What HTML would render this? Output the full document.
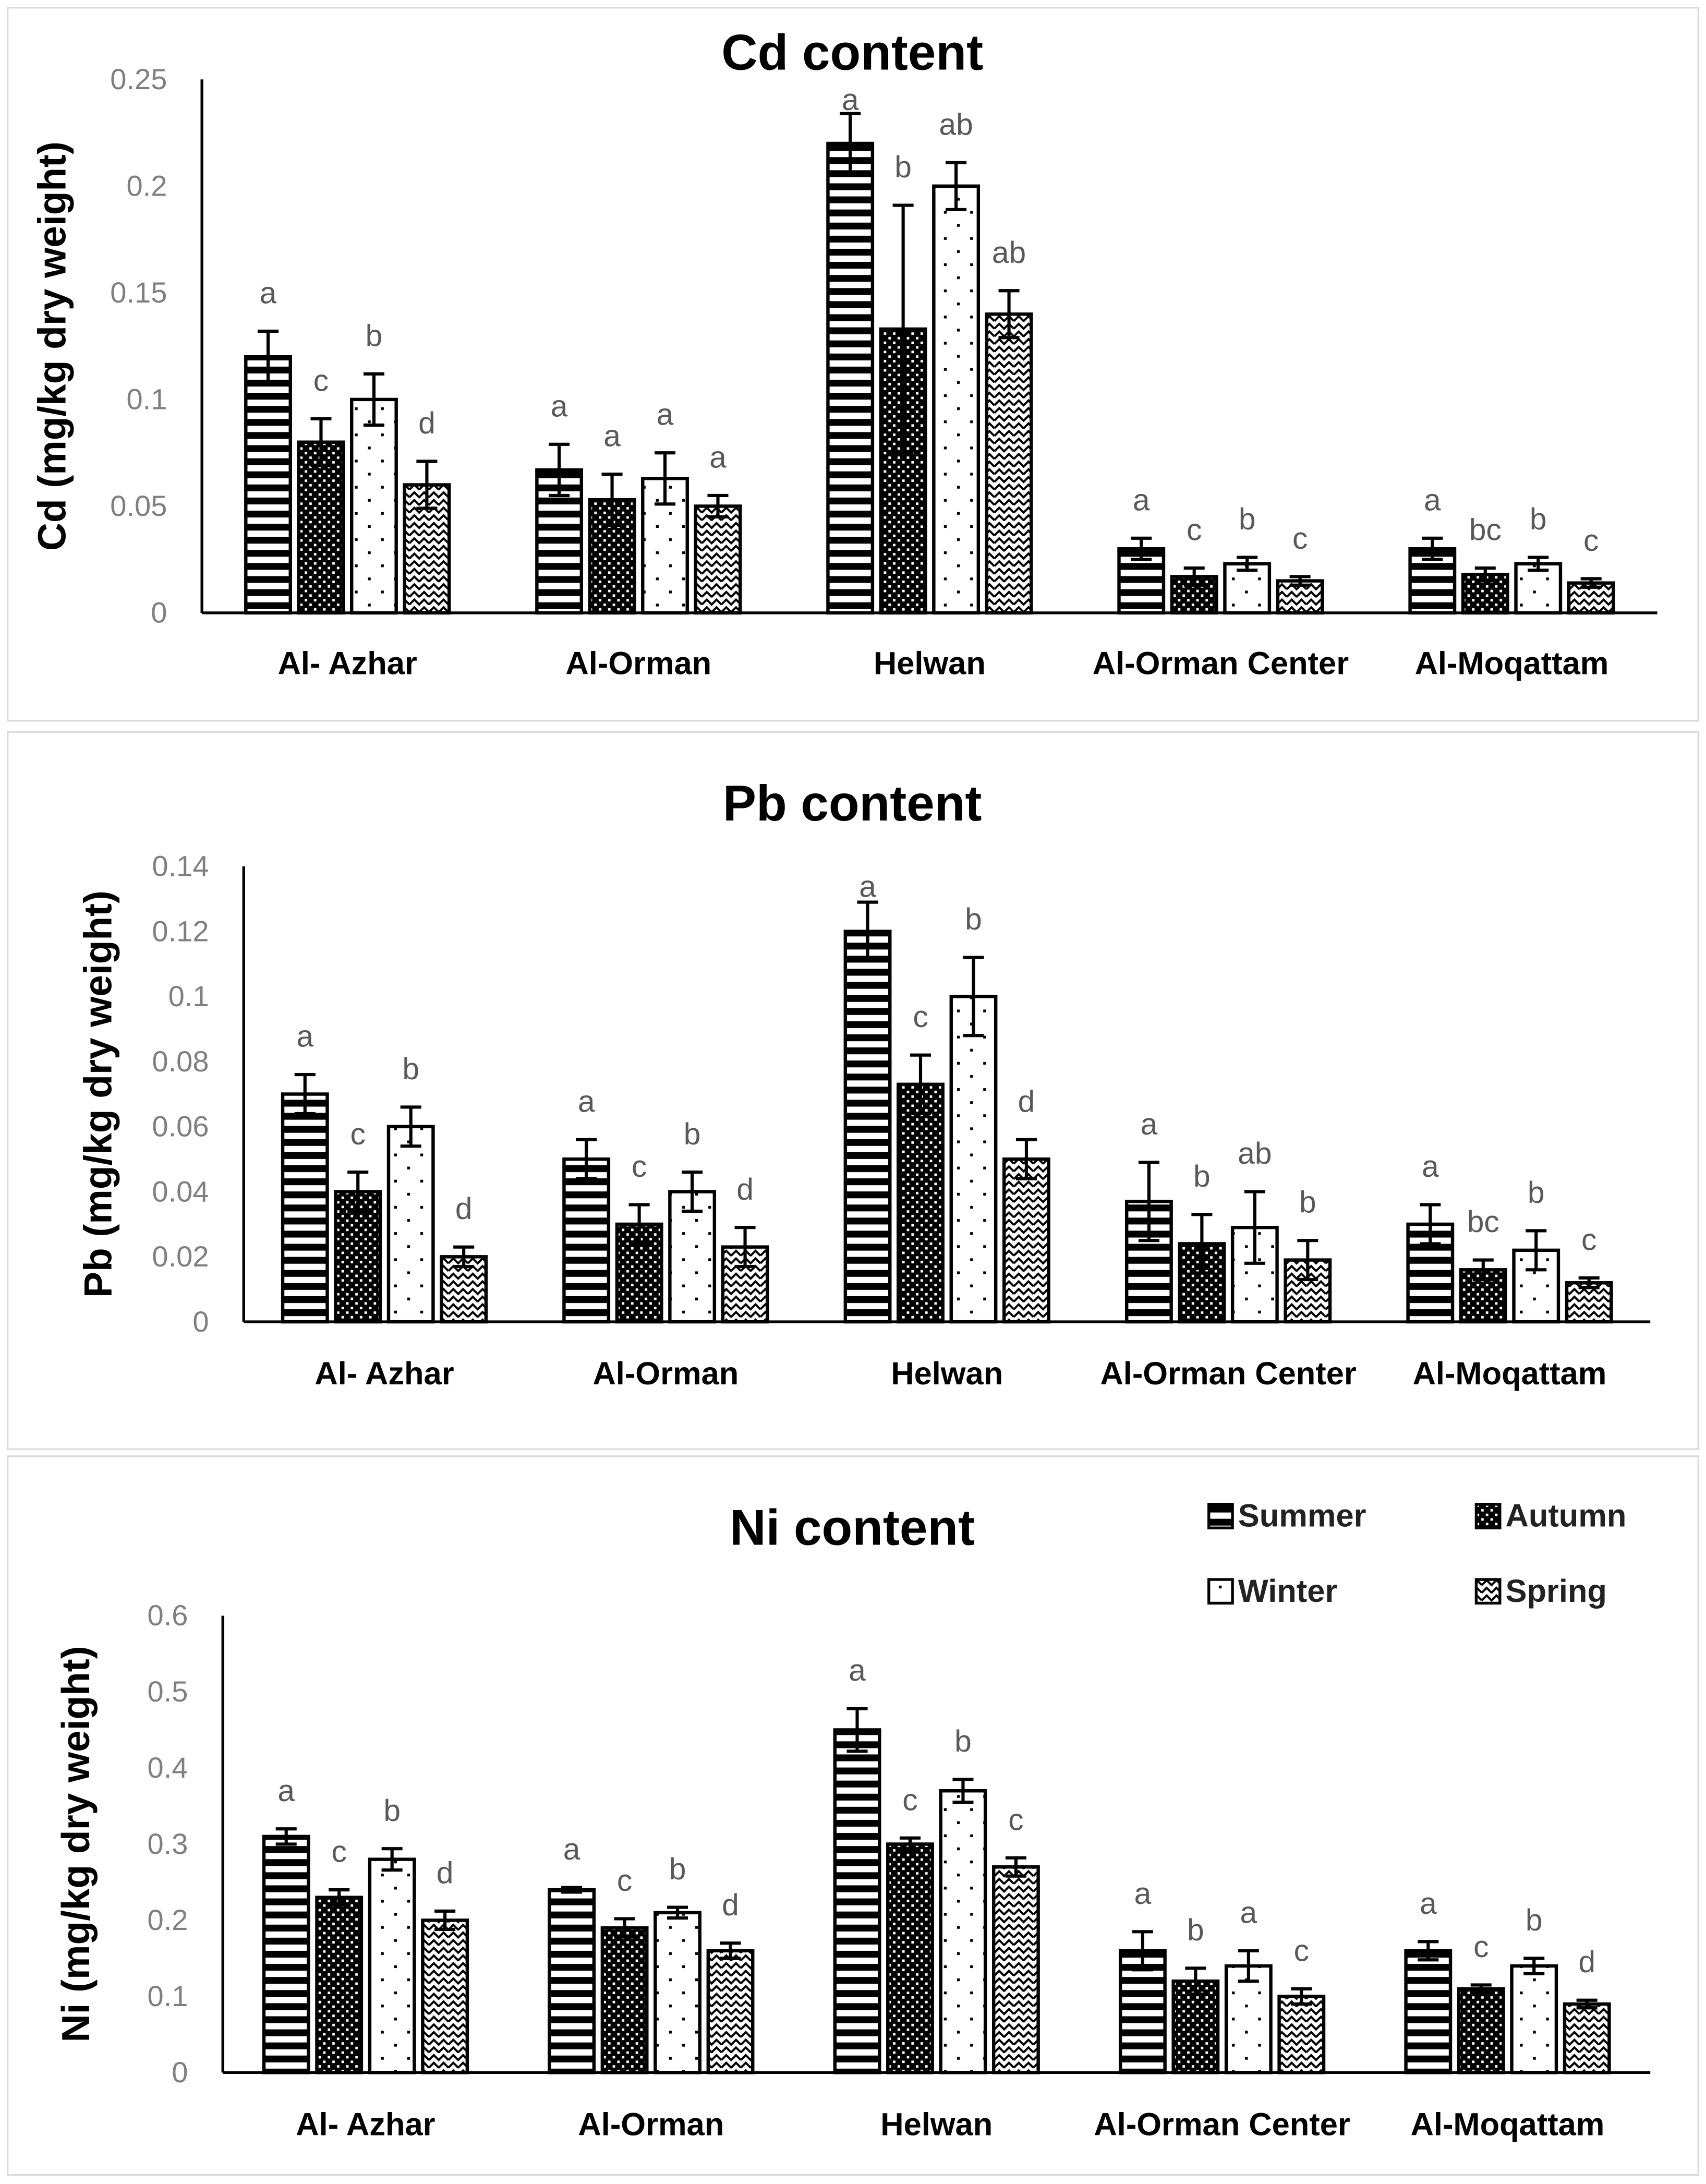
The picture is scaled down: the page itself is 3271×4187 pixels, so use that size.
<!DOCTYPE html>
<html><head><meta charset="utf-8">
<style>
html,body{margin:0;padding:0;background:#fff;}
svg{display:block;}
text{font-family:"Liberation Sans",Arial,sans-serif;}
</style></head>
<body>
<svg id="fig" width="3271" height="4187" viewBox="0 0 1225 1568" xmlns="http://www.w3.org/2000/svg">
<defs>
<pattern id="pSummer" patternUnits="userSpaceOnUse" width="9.4" height="9.4"><rect width="9.4" height="9.4" fill="#fff"/><rect y="0" width="9.4" height="4.9" fill="#000"/></pattern>
<pattern id="pAutumn" patternUnits="userSpaceOnUse" width="6.6" height="6.6"><rect width="6.6" height="6.6" fill="#000"/><rect x="1" y="1" width="1.8" height="1.8" fill="#fff"/><rect x="4.3" y="4.3" width="1.8" height="1.8" fill="#fff"/></pattern>
<pattern id="pWinter" patternUnits="userSpaceOnUse" width="18.8" height="18.8"><rect width="18.8" height="18.8" fill="#fff"/><rect x="1" y="1" width="2" height="2" fill="#000"/><rect x="10.4" y="10.4" width="2" height="2" fill="#000"/></pattern>
<pattern id="pSpring" patternUnits="userSpaceOnUse" width="14" height="11"><rect width="14" height="11" fill="#fff"/><path d="M0,5 L3.5,1.5 L7,5 L10.5,1.5 L14,5" fill="none" stroke="#000" stroke-width="1.5"/><path d="M0,10.5 L3.5,7 L7,10.5 L10.5,7 L14,10.5" fill="none" stroke="#000" stroke-width="1.5"/></pattern>
</defs>
<rect x="5.5" y="5.5" width="1214" height="512" fill="#fff" stroke="#d9d9d9" stroke-width="1.2"/>
<rect x="5.5" y="525.5" width="1214" height="515" fill="#fff" stroke="#d9d9d9" stroke-width="1.2"/>
<rect x="5.5" y="1045.5" width="1214" height="516" fill="#fff" stroke="#d9d9d9" stroke-width="1.2"/>
<g id="legend">
 <g><rect x="868" y="1080" width="17" height="17" fill="url(#pSummer)" stroke="#000" stroke-width="2"/><text x="889" y="1096" font-size="23" font-weight="bold" fill="#222">Summer</text></g>
 <g><rect x="1060" y="1080" width="17" height="17" fill="url(#pAutumn)" stroke="#000" stroke-width="2"/><text x="1081" y="1096" font-size="23" font-weight="bold" fill="#222">Autumn</text></g>
 <g><rect x="868" y="1134" width="17" height="17" fill="url(#pWinter)" stroke="#000" stroke-width="2"/><text x="889" y="1150" font-size="23" font-weight="bold" fill="#222">Winter</text></g>
 <g><rect x="1060" y="1134" width="17" height="17" fill="url(#pSpring)" stroke="#000" stroke-width="2"/><text x="1081" y="1150" font-size="23" font-weight="bold" fill="#222">Spring</text></g>
</g>
</svg>
<script>
const categories = ["Al- Azhar","Al-Orman","Helwan","Al-Orman Center","Al-Moqattam"];
const seasons = ["summer","autumn","winter","spring"];

const cdSummer = [0.12,0.067,0.22,0.030,0.030];
const cdAutumn = [0.08,0.053,0.133,0.017,0.018];
const cdWinter = [0.10,0.063,0.20,0.023,0.023];
const cdSpring = [0.06,0.050,0.14,0.015,0.014];
const cdErrSummer = [0.012,0.012,0.014,0.005,0.005];
const cdErrAutumn = [0.011,0.012,0.058,0.004,0.003];
const cdErrWinter = [0.012,0.012,0.011,0.003,0.003];
const cdErrSpring = [0.011,0.005,0.011,0.002,0.002];
const cdLetters = [["a","c","b","d"],["a","a","a","a"],["a","b","ab","ab"],["a","c","b","c"],["a","bc","b","c"]];
const cdTicks = [0,0.05,0.1,0.15,0.2,0.25];
const cdTickLabels = ["0","0.05","0.1","0.15","0.2","0.25"];

const pbSummer = [0.070,0.050,0.120,0.037,0.030];
const pbAutumn = [0.040,0.030,0.073,0.024,0.016];
const pbWinter = [0.060,0.040,0.100,0.029,0.022];
const pbSpring = [0.020,0.023,0.050,0.019,0.012];
const pbErrSummer = [0.006,0.006,0.009,0.012,0.006];
const pbErrAutumn = [0.006,0.006,0.009,0.009,0.003];
const pbErrWinter = [0.006,0.006,0.012,0.011,0.006];
const pbErrSpring = [0.003,0.006,0.006,0.006,0.0015];
const pbLetters = [["a","c","b","d"],["a","c","b","d"],["a","c","b","d"],["a","b","ab","b"],["a","bc","b","c"]];
const pbTicks = [0,0.02,0.04,0.06,0.08,0.1,0.12,0.14];
const pbTickLabels = ["0","0.02","0.04","0.06","0.08","0.1","0.12","0.14"];

const niSummer = [0.31,0.24,0.45,0.16,0.16];
const niAutumn = [0.23,0.19,0.30,0.12,0.11];
const niWinter = [0.28,0.21,0.37,0.14,0.14];
const niSpring = [0.20,0.16,0.27,0.10,0.09];
const niErrSummer = [0.010,0.003,0.028,0.025,0.012];
const niErrAutumn = [0.010,0.012,0.008,0.017,0.005];
const niErrWinter = [0.014,0.007,0.015,0.020,0.010];
const niErrSpring = [0.012,0.010,0.012,0.010,0.005];
const niLetters = [["a","c","b","d"],["a","c","b","d"],["a","c","b","c"],["a","b","a","c"],["a","c","b","d"]];
const niTicks = [0,0.1,0.2,0.3,0.4,0.5,0.6];
const niTickLabels = ["0","0.1","0.2","0.3","0.4","0.5","0.6"];

const NS = "http://www.w3.org/2000/svg";
const svg = document.getElementById("fig");
const fills = ["url(#pSummer)","url(#pAutumn)","url(#pWinter)","url(#pSpring)"];

function mk(tag, attrs, parent) {
  const e = document.createElementNS(NS, tag);
  for (const k in attrs) e.setAttribute(k, attrs[k]);
  parent.appendChild(e);
  return e;
}

function drawChart(key, title, cfg, series, errs, letters, ticks, tickLabels) {
  const g = mk("g", {}, svg);
  
  
  const maxV = ticks[ticks.length - 1];
  const yScale = v => cfg.y0 - (v / maxV) * (cfg.y0 - cfg.yTop);
  const groupW = (cfg.xEnd - cfg.xAxis) / categories.length;
  const xCenter = i => cfg.xAxis + groupW * (i + 0.5);

  const t = mk("text", {x: 612, y: cfg.titleY, "font-size": 36, "font-weight": "bold", "text-anchor": "middle", fill: "#000"}, g);
  t.textContent = title;
  
  

  const yt = mk("text", {x: 0, y: 0, "font-size": 28, "font-weight": "bold", "text-anchor": "middle", fill: "#000",
    transform: "translate(" + cfg.yTitleX + "," + ((cfg.y0 + cfg.yTop) / 2) + ") rotate(-90)"}, g);
  yt.textContent = key.charAt(0).toUpperCase() + key.slice(1) + " (mg/kg dry weight)";
  
  

  ticks.forEach((v, i) => {
    const tl = mk("text", {x: cfg.xAxis - 25, y: yScale(v) + 7, "font-size": 21, "text-anchor": "end", fill: "#7f7f7f"}, g);
    tl.textContent = tickLabels[i];
    
    
  });

  const ya = mk("line", {x1: cfg.xAxis, y1: cfg.yTop, x2: cfg.xAxis, y2: cfg.y0, stroke: "#000", "stroke-width": 2}, g);
  
  

  categories.forEach((c, i) => {
    const cx = xCenter(i);
    series.forEach((s, j) => {
      const bx = cx + (j - 1.5) * 38 - 16;
      const by = yScale(s[i]);
      const r = mk("rect", {x: bx, y: by, width: 32, height: cfg.y0 - by, fill: fills[j], stroke: "#000", "stroke-width": 2.4}, g);
      
      
      const ex = bx + 16;
      const eTop = yScale(s[i] + errs[j][i]);
      const eBot = yScale(Math.max(0, s[i] - errs[j][i]));
      const eb = mk("path", {d: "M" + ex + "," + eTop + "V" + eBot + "M" + (ex - 7.5) + "," + eTop + "H" + (ex + 7.5) + "M" + (ex - 7.5) + "," + eBot + "H" + (ex + 7.5), stroke: "#000", "stroke-width": 2.3, fill: "none"}, g);
      
      
      const lt = mk("text", {x: ex, y: Math.max(eTop - 20, cfg.yTop + 22), "font-size": 22, "text-anchor": "middle", fill: "#595959"}, g);
      lt.textContent = letters[i][j];
      
      
    });
    const xl = mk("text", {x: cx, y: cfg.xLabelY, "font-size": 23, "font-weight": "bold", "text-anchor": "middle", fill: "#000"}, g);
    xl.textContent = c;
    
    
  });

  const xa = mk("line", {x1: cfg.xAxis, y1: cfg.y0, x2: cfg.xEnd, y2: cfg.y0, stroke: "#000", "stroke-width": 2}, g);
  
  
}

drawChart("cd", "Cd content", {titleY: 50, y0: 440, yTop: 57, xAxis: 145, xEnd: 1190, xLabelY: 484, yTitleX: 47},
  [cdSummer, cdAutumn, cdWinter, cdSpring], [cdErrSummer, cdErrAutumn, cdErrWinter, cdErrSpring], cdLetters, cdTicks, cdTickLabels);
drawChart("pb", "Pb content", {titleY: 589, y0: 949, yTop: 622, xAxis: 175, xEnd: 1185, xLabelY: 994, yTitleX: 80},
  [pbSummer, pbAutumn, pbWinter, pbSpring], [pbErrSummer, pbErrAutumn, pbErrWinter, pbErrSpring], pbLetters, pbTicks, pbTickLabels);
drawChart("ni", "Ni content", {titleY: 1109, y0: 1488, yTop: 1160, xAxis: 160, xEnd: 1185, xLabelY: 1533, yTitleX: 64},
  [niSummer, niAutumn, niWinter, niSpring], [niErrSummer, niErrAutumn, niErrWinter, niErrSpring], niLetters, niTicks, niTickLabels);
</script>
</body></html>
